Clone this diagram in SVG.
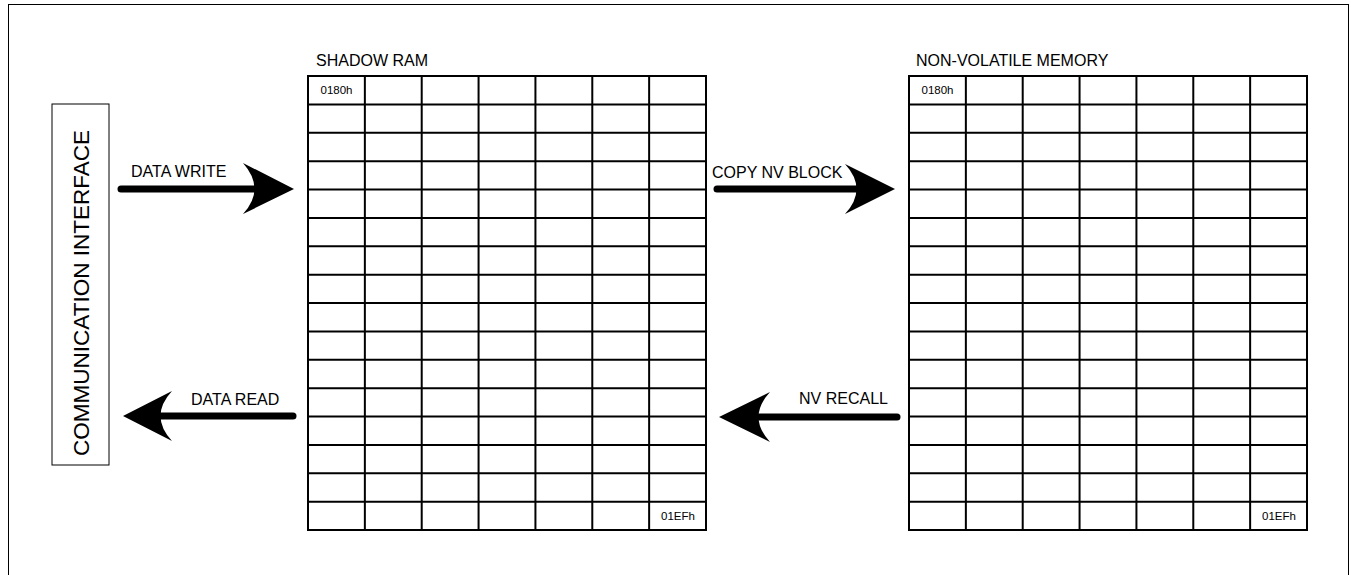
<svg xmlns="http://www.w3.org/2000/svg" width="1351" height="575" viewBox="0 0 1351 575">
<style>
.t{font-family:"Liberation Sans",Arial,sans-serif;fill:#000}
.lbl{font-size:16px}
.cell{font-size:11.5px;text-anchor:middle}
.grid{fill:#fff;stroke:#000;stroke-width:2}
.shaft{stroke:#000;stroke-width:7;stroke-linecap:round;fill:none}
.head{fill:#000;stroke:none}
</style>
<defs>
<g id="gridlines">
<rect x="0" y="0" width="398" height="454" class="grid"/>
<path d="M56.86 0V454M113.71 0V454M170.57 0V454M227.43 0V454M284.29 0V454M341.14 0V454M0 28.375H398M0 56.75H398M0 85.125H398M0 113.5H398M0 141.875H398M0 170.25H398M0 198.625H398M0 227H398M0 255.375H398M0 283.75H398M0 312.125H398M0 340.5H398M0 368.875H398M0 397.25H398M0 425.625H398" stroke="#000" stroke-width="2" fill="none"/>
</g>
</defs>
<rect x="0" y="0" width="1351" height="575" fill="#fff"/>
<rect id="frame" x="8.5" y="4.5" width="1340" height="600" fill="none" stroke="#000" stroke-width="1"/>

<g id="comm">
<rect x="52" y="104" width="57" height="361" fill="#fff" stroke="#000" stroke-width="1"/>
<text class="t" font-size="22.5" text-anchor="middle" transform="translate(89,293) rotate(-90)">COMMUNICATION INTERFACE</text>
</g>

<g id="shadow-ram">
<text class="t lbl" x="316" y="66">SHADOW RAM</text>
<use href="#gridlines" x="308" y="76"/>
<text class="t cell" x="336.5" y="94">0180h</text>
<text class="t cell" x="678" y="520">01EFh</text>
</g>

<g id="nv-memory">
<text class="t lbl" x="916" y="66">NON-VOLATILE MEMORY</text>
<use href="#gridlines" x="909" y="76"/>
<text class="t cell" x="937.5" y="94">0180h</text>
<text class="t cell" x="1279" y="520">01EFh</text>
</g>

<g id="connectors">
<g id="data-write">
<line class="shaft" x1="121" y1="189" x2="258" y2="189"/>
<path class="head" d="M243,163 L294,189 L243,214 Q266,189 243,163 Z"/>
<text class="t lbl" x="131" y="177">DATA WRITE</text>
</g>
<g id="copy-nv">
<line class="shaft" x1="717" y1="189" x2="860" y2="189"/>
<path class="head" d="M845,164 L895,189 L845,214 Q868,189 845,164 Z"/>
<text class="t lbl" x="712" y="178">COPY NV BLOCK</text>
</g>
<g id="nv-recall">
<line class="shaft" x1="897" y1="417" x2="755" y2="417"/>
<path class="head" d="M770,392 L719,417 L770,442 Q747,417 770,392 Z"/>
<text class="t lbl" x="799" y="404">NV RECALL</text>
</g>
<g id="data-read">
<line class="shaft" x1="293" y1="416" x2="157" y2="416"/>
<path class="head" d="M172,391 L123,416 L172,441 Q149,416 172,391 Z"/>
<text class="t lbl" x="191" y="405">DATA READ</text>
</g>
</g>
</svg>
